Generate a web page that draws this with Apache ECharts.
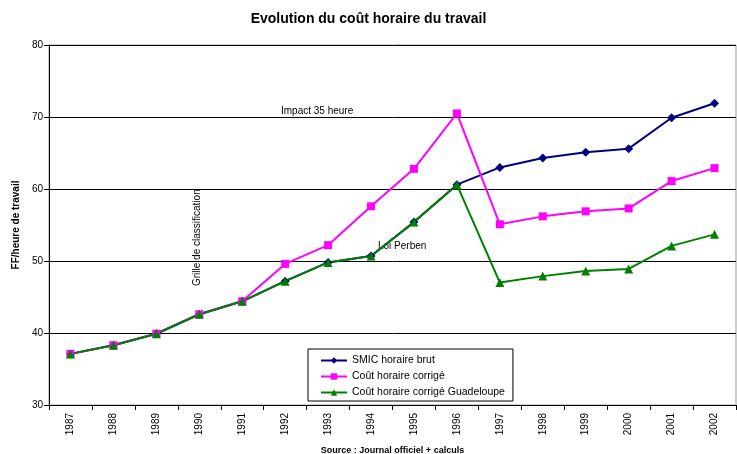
<!DOCTYPE html>
<html><head><meta charset="utf-8">
<script src="https://cdn.jsdelivr.net/npm/echarts@6/dist/echarts.min.js"></script>
<style>html,body{margin:0;padding:0;background:#fff}#c{width:737px;height:454px}</style>
</head><body><div id="c"></div>
<script>
var years = ['1987','1988','1989','1990','1991','1992','1993','1994','1995','1996','1997','1998','1999','2000','2001','2002'];
var smic = [37.1,38.3,39.9,42.6,44.4,47.2,49.8,50.7,55.4,60.6,63.0,64.3,65.1,65.6,69.9,71.9];
var coutCorrige = [37.1,38.3,39.9,42.6,44.4,49.6,52.2,57.6,62.8,70.5,55.1,56.2,56.9,57.3,61.1,62.9];
var coutGuadeloupe = [37.1,38.3,39.9,42.6,44.4,47.2,49.8,50.7,55.4,60.6,47.0,47.9,48.6,48.9,52.1,53.7];
var seriesNames = ['SMIC horaire brut','Coût horaire corrigé','Coût horaire corrigé Guadeloupe'];
var yTicks = {min:30, max:80, interval:10};

var chart = echarts.init(document.getElementById('c'));
var F = 'Arial, "Liberation Sans", sans-serif';
chart.setOption({
  animation:false,
  textStyle:{fontFamily:F},
  title:{text:'Evolution du coût horaire du travail', left:'center', top:7,
    textStyle:{fontSize:14, fontWeight:'bold', color:'#000', fontFamily:F}},
  grid:{left:49, right:1, top:45, bottom:49, containLabel:false, outerBoundsMode:'none',
    show:true, borderColor:'#999', borderWidth:1},
  legend:{orient:'vertical', left:308, top:349,
    backgroundColor:'#fff', borderColor:'#000', borderWidth:1, borderRadius:0,
    padding:[6,8,3,12], itemGap:5, itemWidth:26, itemHeight:8,
    textStyle:{fontSize:10.5, color:'#000', fontFamily:F},
    data:seriesNames},
  xAxis:{type:'category', data:years, boundaryGap:true,
    axisLine:{lineStyle:{color:'#000'}},
    axisTick:{show:true, alignWithLabel:false, lineStyle:{color:'#000'}},
    axisLabel:{rotate:90, fontSize:10, color:'#000', margin:8, fontFamily:F},
    name:'Source : Journal officiel + calculs', nameLocation:'middle', nameGap:41,
    nameTextStyle:{fontSize:9, fontWeight:'bold', color:'#000', fontFamily:F}},
  yAxis:{type:'value', min:yTicks.min, max:yTicks.max, interval:yTicks.interval,
    axisLine:{show:true, lineStyle:{color:'#000'}},
    axisTick:{show:true, lineStyle:{color:'#000'}},
    axisLabel:{fontSize:10, color:'#000', margin:6, fontFamily:F},
    splitLine:{show:true, lineStyle:{color:'#000', width:1}},
    name:'FF/heure de travail', nameLocation:'middle', nameGap:24,
    nameTextStyle:{fontSize:10, fontWeight:'bold', color:'#000', fontFamily:F}},
  series:[
    {name:seriesNames[0], type:'line', data:smic, symbol:'diamond', symbolSize:9,
      lineStyle:{color:'#000080', width:2}, itemStyle:{color:'#000080'}},
    {name:seriesNames[1], type:'line', data:coutCorrige, symbol:'rect', symbolSize:8,
      lineStyle:{color:'#FF00FF', width:2}, itemStyle:{color:'#FF00FF'}},
    {name:seriesNames[2], type:'line', data:coutGuadeloupe, symbol:'triangle', symbolSize:9,
      lineStyle:{color:'#008000', width:2}, itemStyle:{color:'#008000'}}
  ],
  graphic:[
    {type:'text', left:281, top:106, style:{text:'Impact 35 heure', font:'10px '+F, fill:'#000'}},
    {type:'text', left:378, top:241, style:{text:'Loi Perben', font:'10px '+F, fill:'#000'}},
    {type:'text', x:192, y:286, rotation:Math.PI/2, style:{text:'Grille de classification', font:'10px '+F, fill:'#000', textVerticalAlign:'top'}}
  ]
});
</script></body></html>
